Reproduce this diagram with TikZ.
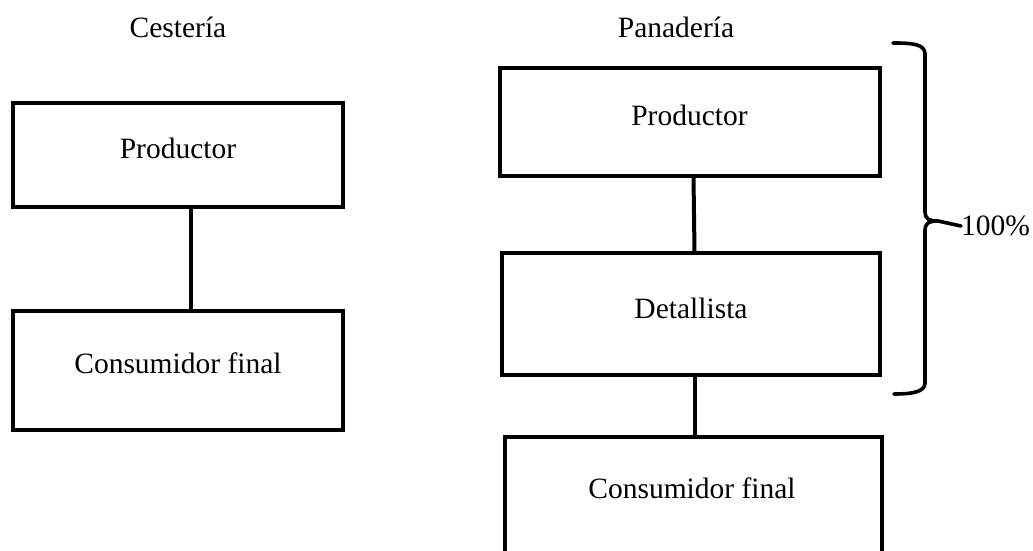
\documentclass[tikz,border=0pt]{standalone}
\usepackage{fontspec}
\setmainfont{Liberation Serif}
\usetikzlibrary{calc}
\begin{document}
\begin{tikzpicture}[x=1pt,y=-1pt,
  box/.style={draw=black,line width=4pt,rectangle,inner sep=0pt,minimum width=#1},
  lbl/.style={anchor=base,inner sep=0pt,font=\fontsize{29.5}{34}\selectfont},
  conn/.style={draw=black,line width=4pt},
  brace/.style={draw=black,line width=3.6pt,line cap=round,line join=round}]
\useasboundingbox (0,0) rectangle (1033,551);
\clip (0,0) rectangle (1033,551);
% titles
\node[lbl] (tces) at (178,38) {Cestería};
\node[lbl] (tpan) at (676,38) {Panadería};
% left column
\node[box=330pt,minimum height=104pt] (lprod) at (178,155) {};
\node[box=330pt,minimum height=119pt] (lcons) at (178,370.5) {};
\node[lbl] (lprodt) at (178,158) {Productor};
\node[lbl] (lconst) at (178,373) {Consumidor final};
\draw[conn] ([xshift=12.5pt]lprod.south) -- ([xshift=12.5pt]lcons.north);
% right column
\node[box=380pt,minimum height=108pt] (rprod) at (690,122) {};
\node[box=378pt,minimum height=122pt] (rdet) at (691,314) {};
\node[box=377pt,minimum height=125pt] (rcons) at (693.5,499.5) {};
\node[lbl] (rprodt) at (689.5,125) {Productor};
\node[lbl] (rdett) at (691,318) {Detallista};
\node[lbl] (rconst) at (692,498) {Consumidor final};
\draw[conn] ([xshift=3.5pt]rprod.south) -- ([xshift=3.5pt]rdet.north);
\draw[conn] ([xshift=4pt]rdet.south) -- ([xshift=1.5pt]rcons.north);
% brace
\coordinate (btop) at (893,43);
\coordinate (bbot) at (894,394);
\node[anchor=west,inner sep=0pt,font=\fontsize{29.5}{34}\selectfont] (pct) at (961,226) {100\%};
\draw[brace] (btop) .. controls (912,43) and (925,44) .. (925,54)
  -- (925,212) .. controls (925,218) and (928,221) .. (938,221)
  -- (pct.west);
\draw[brace] (938,221) .. controls (928,221) and (925,224) .. (925,230)
  -- (925,383) .. controls (925,392) and (912,394) .. (bbot);
\end{tikzpicture}
\end{document}
